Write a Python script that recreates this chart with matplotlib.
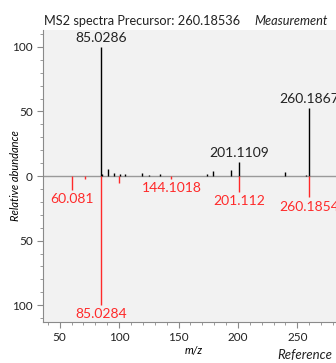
import numpy as np
import matplotlib
matplotlib.use("Agg")
import matplotlib.pyplot as plt
from matplotlib.ticker import MultipleLocator, FuncFormatter

# measured spectrum (top, black)
meas_mz = [85.0286, 85.9, 90.7, 95.5, 100.5, 105.3, 119.4, 125.0, 134.8,
           174.1, 179.2, 193.8, 201.1109, 239.5, 257.0, 260.1867]
meas_int = [100, 1.3, 5.4, 2.0, 1.3, 1.5, 2.5, 1.0, 1.5,
            1.5, 4.0, 5.0, 11.0, 3.0, 1.0, 53.0]
meas_labels = {85.0286: "85.0286", 201.1109: "201.1109", 260.1867: "260.1867"}

# reference spectrum (bottom, red)
ref_mz = [60.081, 71.6, 85.0284, 100.07, 144.1018, 201.112, 260.1854]
ref_int = [11.0, 2.0, 100, 5.0, 2.0, 12.0, 16.5]
ref_labels = {60.081: "60.081", 144.1018: "144.1018", 85.0284: "85.0284",
              201.112: "201.112", 260.1854: "260.1854"}

plt.rcParams['font.family'] = ['Lato', 'DejaVu Sans']

fig = plt.figure(figsize=(3.36, 3.63), dpi=100)
ax = fig.add_axes([0.128, 0.113, 0.8985, 0.804])
ax.set_facecolor("#f2f2f2")

red = "#ff2a2a"
ax.axhline(0, color="#9a9a9a", lw=1.0, zorder=1)
ax.vlines(meas_mz, 0, meas_int, color="black", lw=1.0, zorder=2)
ax.vlines(ref_mz, 0, [-v for v in ref_int], color=red, lw=1.0, zorder=2)

for mz, lab in meas_labels.items():
    h = meas_int[meas_mz.index(mz)]
    ax.text(mz, h + 2, lab, ha="center", va="bottom", fontsize=10, color="#222222")
for mz, lab in ref_labels.items():
    h = ref_int[ref_mz.index(mz)]
    ax.text(mz, -h - 2.5, lab, ha="center", va="top", fontsize=10, color=red)

ax.set_xlim(36, 290)
ax.set_ylim(-113, 113)
ax.xaxis.set_major_locator(MultipleLocator(50))
ax.xaxis.set_minor_locator(MultipleLocator(10))
ax.yaxis.set_major_locator(MultipleLocator(50))
ax.yaxis.set_minor_locator(MultipleLocator(10))
ax.yaxis.set_major_formatter(FuncFormatter(lambda v, p: f"{abs(v):.0f}"))

for s in ["top", "right"]:
    ax.spines[s].set_visible(False)
for s in ["left", "bottom"]:
    ax.spines[s].set_color("#8a8a8a")
ax.tick_params(which="both", colors="#8a8a8a", labelcolor="#222222", labelsize=8.5)
ax.tick_params(which="major", length=4)
ax.tick_params(which="minor", length=2)

ax.set_xlabel("m/z", fontsize=8, style="italic", labelpad=1)
ax.set_ylabel("Relative abundance", fontsize=8, style="italic")
ax.yaxis.set_label_coords(-0.072, 0.5)

fig.text(0.131, 0.943, "MS2 spectra Precursor: 260.18536", fontsize=9.2,
         va="center", ha="left", color="#222222")
fig.text(0.756, 0.943, "Measurement", fontsize=9.2, style="italic",
         va="center", ha="left", color="#222222")
fig.text(0.99, 0.022, "Reference", fontsize=9.5, style="italic",
         va="center", ha="right", color="#222222")

fig.savefig("out.png", dpi=100)
